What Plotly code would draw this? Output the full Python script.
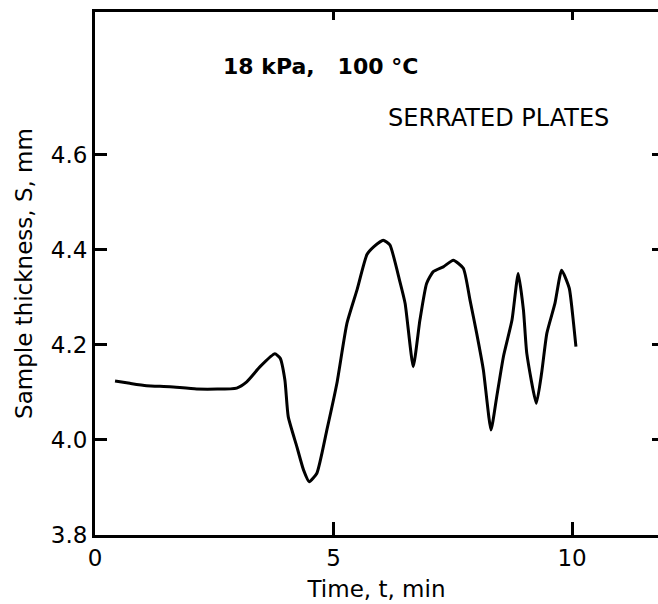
import plotly.graph_objects as go

# Time (min) and sample thickness (mm)
time_min = [0.42, 0.73, 1.08, 1.57, 2.13, 2.97, 3.18, 3.46, 3.77, 3.88, 3.98, 4.05,
            4.23, 4.37, 4.49, 4.65, 4.86, 5.07, 5.28, 5.49, 5.70, 5.84, 6.04, 6.18,
            6.39, 6.50, 6.67, 6.81, 6.95, 7.09, 7.30, 7.51, 7.72, 7.86, 8.00, 8.14,
            8.30, 8.42, 8.56, 8.74, 8.87, 8.98, 9.05, 9.25, 9.36, 9.47, 9.64, 9.78,
            9.94, 10.03, 10.08]
thickness_mm = [4.124, 4.119, 4.114, 4.112, 4.107, 4.109, 4.122, 4.154, 4.181, 4.172,
                4.126, 4.049, 3.986, 3.937, 3.912, 3.930, 4.021, 4.119, 4.245, 4.315,
                4.390, 4.406, 4.420, 4.410, 4.333, 4.287, 4.154, 4.252, 4.329, 4.354,
                4.364, 4.378, 4.361, 4.294, 4.224, 4.147, 4.021, 4.091, 4.175, 4.252,
                4.350, 4.273, 4.182, 4.077, 4.140, 4.224, 4.287, 4.357, 4.319, 4.245,
                4.196]

x_ticks = [0, 5, 10]
y_ticks = [3.8, 4.0, 4.2, 4.4, 4.6]
y_tick_labels = ["3.8", "4.0", "4.2", "4.4", "4.6"]
x_range = [0, 11.8]
y_range = [3.8, 4.9]

tick_font = dict(family="DejaVu Sans", size=23, color="black")
title_font = dict(family="DejaVu Sans", size=23, color="black")

fig = go.Figure()
fig.add_trace(go.Scatter(x=time_min, y=thickness_mm, mode="lines",
                         line=dict(color="black", width=3, shape="spline", smoothing=0.5),
                         showlegend=False, hoverinfo="skip"))
# helper trace so that the mirror axes are drawn
fig.add_trace(go.Scatter(x=[None], y=[None], xaxis="x2", yaxis="y2",
                         showlegend=False, hoverinfo="skip"))

fig.update_layout(
    width=658, height=604,
    margin=dict(l=95, r=0, t=12, b=69),
    paper_bgcolor="white", plot_bgcolor="white",
    xaxis=dict(range=x_range, tickvals=x_ticks, ticktext=[str(v) for v in x_ticks],
               ticks="inside", ticklen=13, tickwidth=3, tickcolor="black",
               showline=True, linewidth=3, linecolor="black",
               showgrid=False, zeroline=False, tickfont=tick_font,
               title=dict(text="Time, t, min", font=title_font, standoff=12)),
    yaxis=dict(range=y_range, tickvals=y_ticks, ticktext=y_tick_labels,
               ticks="inside", ticklen=12, tickwidth=3, tickcolor="black",
               showline=True, linewidth=3, linecolor="black",
               showgrid=False, zeroline=False, tickfont=tick_font,
               title=dict(text="Sample thickness, S, mm", font=title_font, standoff=12)),
    xaxis2=dict(range=x_range, overlaying="x", side="top", anchor="y",
                tickvals=[5, 10], ticks="inside", ticklen=8, tickwidth=3,
                tickcolor="black", showticklabels=False, showline=True,
                linewidth=3, linecolor="black", showgrid=False, zeroline=False),
    yaxis2=dict(range=y_range, overlaying="y", side="right", anchor="x",
                tickvals=[4.0, 4.2, 4.4, 4.6], ticks="inside", ticklen=6,
                tickwidth=3, tickcolor="black", showticklabels=False,
                showline=False, showgrid=False, zeroline=False),
    annotations=[
        dict(text="<b>18 kPa,   100 °C</b>", xref="paper", yref="paper",
             x=0.40, y=0.895, xanchor="center", yanchor="middle", showarrow=False,
             font=dict(family="DejaVu Sans", size=22, color="black")),
        dict(text="SERRATED PLATES", xref="paper", yref="paper",
             x=0.717, y=0.797, xanchor="center", yanchor="middle", showarrow=False,
             font=dict(family="DejaVu Sans", size=24, color="black")),
    ],
)

fig.write_html("out.html")
